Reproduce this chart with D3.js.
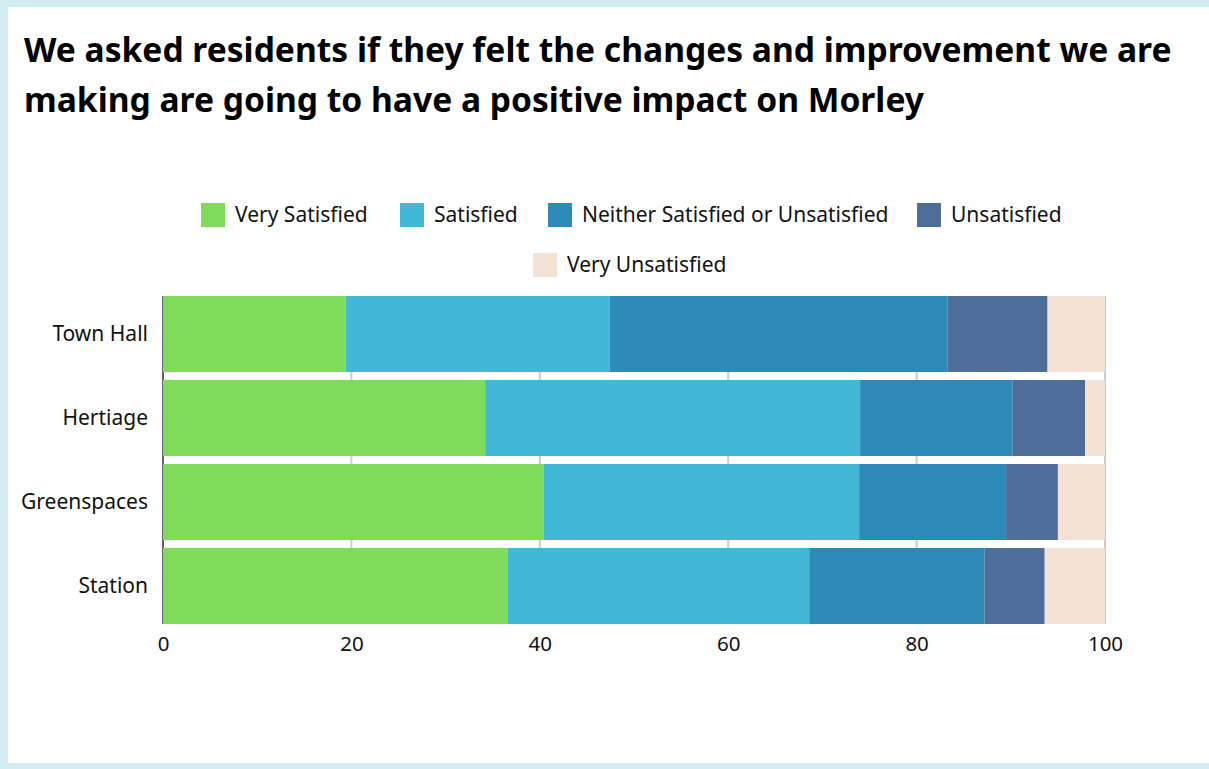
<!DOCTYPE html>
<html><head><meta charset="utf-8">
<script src="https://cdn.jsdelivr.net/npm/d3@7"></script>
<style>
html,body{margin:0;padding:0;background:#d4ecf3;}
svg{display:block;}
</style></head>
<body>
<svg id="c" width="1209" height="769"></svg>
<script>
const categories = ["Town Hall", "Hertiage", "Greenspaces", "Station"];
const seriesNames = ["Very Satisfied", "Satisfied", "Neither Satisfied or Unsatisfied", "Unsatisfied", "Very Unsatisfied"];
const verySatisfied = [19.4, 34.2, 40.4, 36.6];
const satisfied = [28.0, 39.8, 33.5, 32.0];
const neither = [35.9, 16.2, 15.6, 18.6];
const unsatisfied = [10.6, 7.7, 5.5, 6.4];
const veryUnsatisfied = [6.1, 2.1, 5.0, 6.4];
const xTicks = [0, 20, 40, 60, 80, 100];
const colors = ["#80db5a", "#42b7d6", "#2d8bba", "#4f6d99", "#f3e2d5"];

const svg = d3.select("#c");
svg.append("rect").attr("x", 8).attr("y", 7).attr("width", 1201).attr("height", 756).attr("fill", "#fff");

const font = "'Noto Sans', sans-serif";
const title = svg.append("text").attr("x", 24).attr("font-family", font).attr("font-weight", 700)
  .attr("font-size", 33.6).attr("fill", "#000");
title.append("tspan").attr("x", 24).attr("y", 62).text("We asked residents if they felt the changes and improvement we are");
title.append("tspan").attr("x", 24).attr("y", 112).text("making are going to have a positive impact on Morley");

const rows = categories.map((c, i) => ({cat: c, vals: [verySatisfied[i], satisfied[i], neither[i], unsatisfied[i], veryUnsatisfied[i]]}));

const x = d3.scaleLinear().domain([0, 100]).range([163, 1105]);
const y = d3.scaleBand().domain(categories).range([292, 628]).paddingInner(8/84).paddingOuter(4/84);

// gridlines
svg.append("g").selectAll("line").data(xTicks).join("line")
  .attr("x1", d => x(d)).attr("x2", d => x(d))
  .attr("y1", y.range()[0] + 4).attr("y2", y.range()[1] - 4)
  .attr("stroke", d => d === 0 ? "#6e5f78" : "#cccccc").attr("stroke-width", 2);

// bars
const g = svg.append("g");
rows.forEach(r => {
  let acc = 0;
  r.vals.forEach((v, j) => {
    g.append("rect").attr("x", x(acc)).attr("width", x(acc + v) - x(acc))
      .attr("y", y(r.cat)).attr("height", y.bandwidth()).attr("fill", colors[j]);
    acc += v;
  });
});

// y axis labels
const yAxis = svg.append("g").attr("transform", "translate(163,0)")
  .call(d3.axisLeft(y).tickSize(0).tickPadding(15));
yAxis.select(".domain").remove();
yAxis.selectAll("text").attr("font-family", font).attr("font-size", 21).attr("fill", "#111");

// x axis
const xAxis = svg.append("g").attr("transform", "translate(0,628)")
  .call(d3.axisBottom(x).tickValues(xTicks).tickSize(0).tickPadding(8));
xAxis.select(".domain").remove();
xAxis.selectAll("text").attr("font-family", font).attr("font-size", 20.5).attr("fill", "#111");

// legend
const legendItems = [
  {i: 0, sx: 201, ty: 215},
  {i: 1, sx: 400, ty: 215},
  {i: 2, sx: 548, ty: 215},
  {i: 3, sx: 917, ty: 215},
  {i: 4, sx: 533, ty: 265}
];
const lg = svg.append("g");
legendItems.forEach(d => {
  lg.append("rect").attr("x", d.sx).attr("y", d.ty - 12).attr("width", 24).attr("height", 24).attr("fill", colors[d.i]);
  lg.append("text").attr("x", d.sx + 34).attr("y", d.ty).attr("dy", "0.35em")
    .attr("font-family", font).attr("font-size", 21).attr("fill", "#111").text(seriesNames[d.i]);
});
</script>
</body></html>
